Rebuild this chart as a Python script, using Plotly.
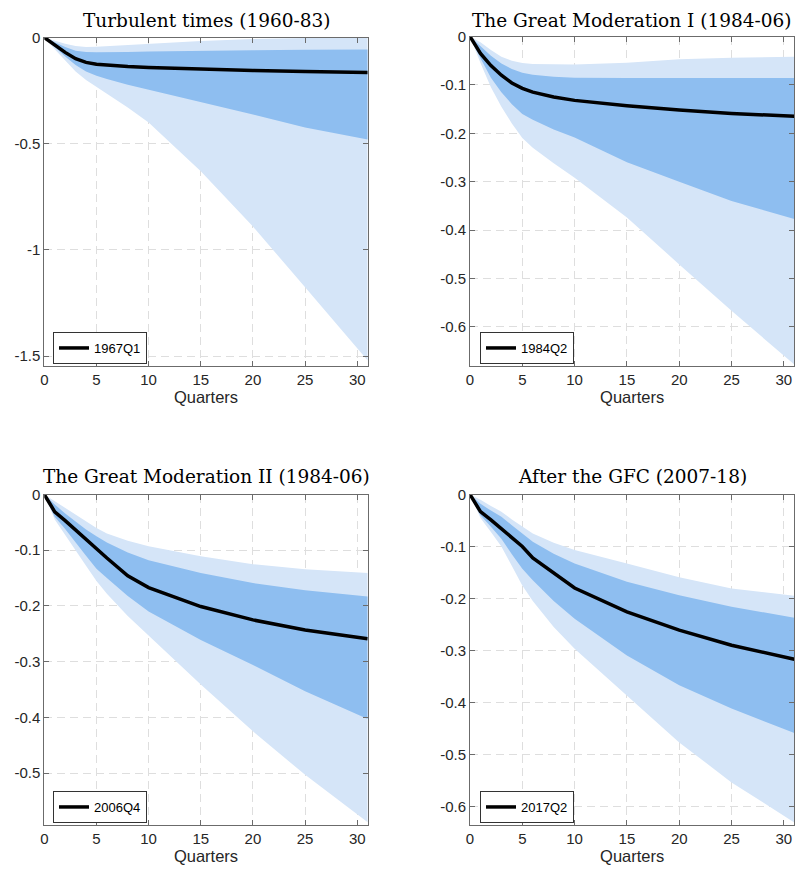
import plotly.graph_objects as go

# Horizon (quarters) at which each response is tabulated
quarters = [0, 1, 2, 3, 4, 5, 6, 8, 10, 15, 20, 25, 31]

# Panel titles and legend labels
titles = ["Turbulent times (1960-83)", "The Great Moderation I (1984-06)",
          "The Great Moderation II (1984-06)", "After the GFC (2007-18)"]
dates = ["1967Q1", "1984Q2", "2006Q4", "2017Q2"]

# Median response and credible bands (inner = dark, outer = light)
p1_median = [0, -0.035, -0.070, -0.100, -0.117, -0.126, -0.131, -0.137, -0.141, -0.149, -0.155, -0.160, -0.165]
p1_inner_hi = [0, -0.022, -0.045, -0.062, -0.068, -0.070, -0.070, -0.068, -0.066, -0.062, -0.060, -0.058, -0.056]
p1_outer_hi = [0, -0.015, -0.030, -0.040, -0.045, -0.044, -0.041, -0.034, -0.028, -0.016, -0.007, -0.002, -0.001]
p1_inner_lo = [0, -0.045, -0.090, -0.130, -0.160, -0.180, -0.195, -0.222, -0.246, -0.305, -0.362, -0.424, -0.480]
p1_outer_lo = [0, -0.055, -0.110, -0.160, -0.200, -0.236, -0.265, -0.330, -0.400, -0.630, -0.890, -1.175, -1.520]

p2_median = [0, -0.035, -0.060, -0.080, -0.096, -0.107, -0.115, -0.125, -0.132, -0.143, -0.152, -0.159, -0.165]
p2_inner_hi = [0, -0.020, -0.040, -0.056, -0.067, -0.075, -0.079, -0.083, -0.085, -0.086, -0.086, -0.086, -0.086]
p2_outer_hi = [0, -0.012, -0.028, -0.042, -0.050, -0.055, -0.057, -0.058, -0.058, -0.054, -0.047, -0.044, -0.042]
p2_inner_lo = [0, -0.045, -0.085, -0.115, -0.140, -0.160, -0.172, -0.192, -0.209, -0.260, -0.300, -0.340, -0.377]
p2_outer_lo = [0, -0.055, -0.105, -0.145, -0.180, -0.210, -0.230, -0.262, -0.292, -0.374, -0.471, -0.567, -0.678]

p3_median = [0, -0.031, -0.047, -0.064, -0.082, -0.099, -0.114, -0.146, -0.167, -0.201, -0.225, -0.243, -0.259]
p3_inner_hi = [0, -0.018, -0.034, -0.049, -0.063, -0.075, -0.086, -0.104, -0.118, -0.141, -0.159, -0.172, -0.183]
p3_outer_hi = [0, -0.012, -0.024, -0.036, -0.048, -0.060, -0.070, -0.083, -0.093, -0.111, -0.125, -0.134, -0.141]
p3_inner_lo = [0, -0.040, -0.062, -0.085, -0.110, -0.133, -0.150, -0.182, -0.210, -0.261, -0.306, -0.353, -0.403]
p3_outer_lo = [0, -0.045, -0.072, -0.100, -0.128, -0.155, -0.178, -0.218, -0.252, -0.341, -0.425, -0.503, -0.588]

p4_median = [0, -0.033, -0.049, -0.066, -0.083, -0.100, -0.122, -0.152, -0.180, -0.226, -0.261, -0.290, -0.317]
p4_inner_hi = [0, -0.018, -0.031, -0.043, -0.059, -0.075, -0.091, -0.114, -0.133, -0.168, -0.194, -0.216, -0.237]
p4_outer_hi = [0, -0.010, -0.022, -0.033, -0.048, -0.062, -0.075, -0.093, -0.107, -0.133, -0.159, -0.181, -0.195]
p4_inner_lo = [0, -0.040, -0.062, -0.085, -0.115, -0.143, -0.165, -0.205, -0.239, -0.310, -0.367, -0.412, -0.459]
p4_outer_lo = [0, -0.045, -0.072, -0.100, -0.138, -0.175, -0.205, -0.255, -0.297, -0.387, -0.477, -0.554, -0.631]

# Axis ranges and tick values
x_range = [0, 31]
x_ticks = [0, 5, 10, 15, 20, 25, 30]
y_ranges = [[-1.546, 0], [-0.681, 0], [-0.593, 0], [-0.636, 0]]
y_ticks = [
    [0, -0.5, -1, -1.5],
    [0, -0.1, -0.2, -0.3, -0.4, -0.5, -0.6],
    [0, -0.1, -0.2, -0.3, -0.4, -0.5],
    [0, -0.1, -0.2, -0.3, -0.4, -0.5, -0.6],
]

panels = [
    (p1_median, p1_inner_hi, p1_inner_lo, p1_outer_hi, p1_outer_lo),
    (p2_median, p2_inner_hi, p2_inner_lo, p2_outer_hi, p2_outer_lo),
    (p3_median, p3_inner_hi, p3_inner_lo, p3_outer_hi, p3_outer_lo),
    (p4_median, p4_inner_hi, p4_inner_lo, p4_outer_hi, p4_outer_lo),
]

W, H = 796, 874
LIGHT = "#d5e5f8"
DARK = "#8ebef0"
AXIS = "#6b6b6b"
TEXT = "#262626"
GRID = "#dedede"

# Plot-area boxes in pixels: (left, right, top, bottom)
boxes = [
    (44.3, 367.7, 37.5, 366.0),
    (470.0, 794.3, 36.5, 366.0),
    (44.3, 367.7, 494.5, 825.0),
    (470.0, 794.3, 494.5, 825.0),
]
# Legend top-left corners in pixels
legend_pos = [(53, 332), (480, 332), (53, 791), (480, 791)]
title_y = [20, 476]

fig = go.Figure()
layout = dict(
    width=W, height=H,
    margin=dict(l=0, r=0, t=0, b=0, pad=0, autoexpand=False),
    paper_bgcolor="white", plot_bgcolor="white",
    font=dict(family="Liberation Sans, Arial, sans-serif", color=TEXT),
    annotations=[],
)


def band(xs, hi, lo):
    return list(xs) + list(xs)[::-1], list(hi) + list(lo)[::-1]


for i, (med, ihi, ilo, ohi, olo) in enumerate(panels):
    n = i + 1
    xa = "x" if n == 1 else f"x{n}"
    ya = "y" if n == 1 else f"y{n}"
    lg = "legend" if n == 1 else f"legend{n}"

    bx, by = band(quarters, ohi, olo)
    fig.add_trace(go.Scatter(x=bx, y=by, fill="toself", fillcolor=LIGHT,
                             line=dict(width=0), mode="lines", hoverinfo="skip",
                             showlegend=False, xaxis=xa, yaxis=ya))
    bx, by = band(quarters, ihi, ilo)
    fig.add_trace(go.Scatter(x=bx, y=by, fill="toself", fillcolor=DARK,
                             line=dict(width=0), mode="lines", hoverinfo="skip",
                             showlegend=False, xaxis=xa, yaxis=ya))
    fig.add_trace(go.Scatter(x=quarters, y=med, mode="lines", name=dates[i],
                             line=dict(color="black", width=3.5),
                             xaxis=xa, yaxis=ya, legend=lg))

    l, r, t, b = boxes[i]
    common = dict(showline=True, linecolor=AXIS, linewidth=1, mirror="ticks",
                  ticks="inside", ticklen=5, tickcolor=AXIS,
                  showgrid=True, gridcolor=GRID, griddash="8px,5px", gridwidth=1,
                  zeroline=False, tickfont=dict(size=15, color=TEXT))
    layout["xaxis" if n == 1 else f"xaxis{n}"] = dict(
        domain=[l / W, r / W], range=x_range, anchor=ya,
        tickvals=x_ticks, ticktext=[str(v) for v in x_ticks],
        title=dict(text="Quarters", font=dict(size=16.5, color=TEXT), standoff=3),
        **common)
    layout["yaxis" if n == 1 else f"yaxis{n}"] = dict(
        domain=[1 - b / H, 1 - t / H], range=y_ranges[i], anchor=xa,
        tickvals=y_ticks[i], ticktext=[f"{v:g}" for v in y_ticks[i]],
        **common)

    lx, ly = legend_pos[i]
    layout[lg] = dict(x=lx / W, y=1 - ly / H, xanchor="left", yanchor="top",
                      xref="paper", yref="paper",
                      bgcolor="white", bordercolor="#333333", borderwidth=1,
                      font=dict(size=13, color="black"), itemwidth=30,
                      tracegroupgap=0)

    layout["annotations"].append(dict(
        text=titles[i], x=(l + r) / 2 / W, y=1 - title_y[i // 2] / H,
        xref="paper", yref="paper", xanchor="center", yanchor="middle",
        showarrow=False, font=dict(family="DejaVu Serif, serif", size=18.5, color="black")))

fig.update_layout(**layout)
fig.write_html("out.html")
